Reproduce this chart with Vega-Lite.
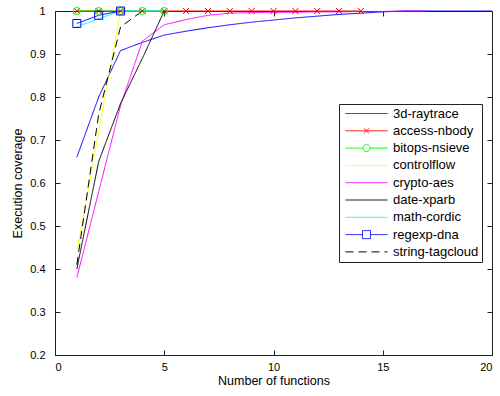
{
  "$schema": "https://vega.github.io/schema/vega-lite/v6.json",
  "width": 437,
  "height": 344,
  "autosize": {"type": "none"},
  "padding": {"left": 55, "top": 11, "right": 8, "bottom": 41},
  "background": "white",
  "config": {
    "font": "Liberation Sans",
    "view": {"stroke": "#222", "strokeWidth": 1},
    "axis": {
      "grid": false,
      "domain": false,
      "tickColor": "#222",
      "tickSize": -5,
      "labelFont": "Liberation Sans",
      "labelFontSize": 11,
      "labelColor": "#000",
      "titleFont": "Liberation Sans",
      "titleFontSize": 12.5,
      "titleFontWeight": "normal",
      "titleColor": "#000"
    },
    "legend": {
      "title": null, "orient": "none", "legendX": 284, "legendY": 93,
      "strokeColor": "#222", "fillColor": "white", "padding": 3,
      "symbolSize": 100, "symbolStrokeWidth": 1, "symbolOffset": 18, "labelOffset": 20,
      "symbolFillColor": "transparent", "symbolOpacity": 1,
      "labelFont": "Liberation Sans", "labelFontSize": 13, "labelColor": "#000", "rowPadding": 3.3
    }
  },
  "data": {
    "values": [
      {"series": "3d-raytrace", "n": 1, "cov": 0.66},
      {"series": "3d-raytrace", "n": 2, "cov": 0.80},
      {"series": "3d-raytrace", "n": 3, "cov": 0.908},
      {"series": "3d-raytrace", "n": 4, "cov": 0.927},
      {"series": "3d-raytrace", "n": 5, "cov": 0.944},
      {"series": "3d-raytrace", "n": 6, "cov": 0.953},
      {"series": "3d-raytrace", "n": 7, "cov": 0.961},
      {"series": "3d-raytrace", "n": 8, "cov": 0.968},
      {"series": "3d-raytrace", "n": 9, "cov": 0.974},
      {"series": "3d-raytrace", "n": 10, "cov": 0.979},
      {"series": "3d-raytrace", "n": 11, "cov": 0.984},
      {"series": "3d-raytrace", "n": 12, "cov": 0.988},
      {"series": "3d-raytrace", "n": 13, "cov": 0.992},
      {"series": "3d-raytrace", "n": 14, "cov": 0.995},
      {"series": "3d-raytrace", "n": 15, "cov": 0.998},
      {"series": "3d-raytrace", "n": 16, "cov": 1.0},
      {"series": "3d-raytrace", "n": 17, "cov": 1.0},
      {"series": "3d-raytrace", "n": 18, "cov": 1.0},
      {"series": "3d-raytrace", "n": 19, "cov": 1.0},
      {"series": "3d-raytrace", "n": 20, "cov": 1.0},
      {"series": "access-nbody", "n": 1, "cov": 1.0},
      {"series": "access-nbody", "n": 2, "cov": 1.0},
      {"series": "access-nbody", "n": 3, "cov": 1.0},
      {"series": "access-nbody", "n": 4, "cov": 1.0},
      {"series": "access-nbody", "n": 5, "cov": 1.0},
      {"series": "access-nbody", "n": 6, "cov": 1.0},
      {"series": "access-nbody", "n": 7, "cov": 1.0},
      {"series": "access-nbody", "n": 8, "cov": 1.0},
      {"series": "access-nbody", "n": 9, "cov": 1.0},
      {"series": "access-nbody", "n": 10, "cov": 1.0},
      {"series": "access-nbody", "n": 11, "cov": 1.0},
      {"series": "access-nbody", "n": 12, "cov": 1.0},
      {"series": "access-nbody", "n": 13, "cov": 1.0},
      {"series": "access-nbody", "n": 14, "cov": 1.0},
      {"series": "bitops-nsieve", "n": 1, "cov": 1.0},
      {"series": "bitops-nsieve", "n": 2, "cov": 1.0},
      {"series": "bitops-nsieve", "n": 3, "cov": 1.0},
      {"series": "bitops-nsieve", "n": 4, "cov": 1.0},
      {"series": "bitops-nsieve", "n": 5, "cov": 1.0},
      {"series": "controlflow", "n": 1, "cov": 0.44},
      {"series": "controlflow", "n": 2, "cov": 0.72},
      {"series": "controlflow", "n": 3, "cov": 1.0},
      {"series": "crypto-aes", "n": 1, "cov": 0.38},
      {"series": "crypto-aes", "n": 2, "cov": 0.58},
      {"series": "crypto-aes", "n": 3, "cov": 0.78},
      {"series": "crypto-aes", "n": 4, "cov": 0.93},
      {"series": "crypto-aes", "n": 5, "cov": 0.968},
      {"series": "crypto-aes", "n": 6, "cov": 0.98},
      {"series": "crypto-aes", "n": 7, "cov": 0.99},
      {"series": "crypto-aes", "n": 8, "cov": 0.995},
      {"series": "crypto-aes", "n": 9, "cov": 0.996},
      {"series": "crypto-aes", "n": 10, "cov": 0.997},
      {"series": "crypto-aes", "n": 11, "cov": 0.997},
      {"series": "crypto-aes", "n": 12, "cov": 0.998},
      {"series": "crypto-aes", "n": 13, "cov": 0.998},
      {"series": "crypto-aes", "n": 14, "cov": 0.999},
      {"series": "crypto-aes", "n": 15, "cov": 0.999},
      {"series": "crypto-aes", "n": 16, "cov": 1.0},
      {"series": "crypto-aes", "n": 17, "cov": 1.0},
      {"series": "date-xparb", "n": 1, "cov": 0.40},
      {"series": "date-xparb", "n": 2, "cov": 0.65},
      {"series": "date-xparb", "n": 3, "cov": 0.785},
      {"series": "date-xparb", "n": 4, "cov": 0.89},
      {"series": "date-xparb", "n": 5, "cov": 1.0},
      {"series": "math-cordic", "n": 1, "cov": 0.963},
      {"series": "math-cordic", "n": 2, "cov": 0.982},
      {"series": "math-cordic", "n": 3, "cov": 1.0},
      {"series": "math-cordic", "n": 4, "cov": 1.0},
      {"series": "math-cordic", "n": 5, "cov": 1.0},
      {"series": "regexp-dna", "n": 1, "cov": 0.971},
      {"series": "regexp-dna", "n": 2, "cov": 0.99},
      {"series": "regexp-dna", "n": 3, "cov": 1.0},
      {"series": "string-tagcloud", "n": 1, "cov": 0.41},
      {"series": "string-tagcloud", "n": 2, "cov": 0.76},
      {"series": "string-tagcloud", "n": 3, "cov": 0.963},
      {"series": "string-tagcloud", "n": 4, "cov": 1.0}
    ]
  },
  "resolve": {"axis": {"x": "independent", "y": "independent"}},
  "layer": [
    {
      "mark": {"type": "line", "strokeWidth": 1},
      "encoding": {
        "x": {
          "field": "n", "type": "quantitative",
          "scale": {"domain": [0, 20], "nice": false},
          "axis": {"orient": "bottom", "values": [0, 5, 10, 15, 20], "title": "Number of functions", "labelPadding": 11, "titlePadding": 2}
        },
        "y": {
          "field": "cov", "type": "quantitative",
          "scale": {"domain": [0.2, 1], "nice": false, "zero": false},
          "axis": {"orient": "left", "values": [0.2, 0.3, 0.4, 0.5, 0.6, 0.7, 0.8, 0.9, 1], "format": ".1~f", "title": "Execution coverage", "labelPadding": 15, "titlePadding": 5}
        },
        "color": {
          "field": "series", "type": "nominal",
          "scale": {
            "domain": ["3d-raytrace", "access-nbody", "bitops-nsieve", "controlflow", "crypto-aes", "date-xparb", "math-cordic", "regexp-dna", "string-tagcloud"],
            "range": ["#0000ff", "#ff0000", "#00ff00", "#ffff00", "#ff00ff", "#000000", "#00ffff", "#0000ff", "#000000"]
          }
        },
        "strokeDash": {
          "field": "series", "type": "nominal",
          "scale": {
            "domain": ["3d-raytrace", "access-nbody", "bitops-nsieve", "controlflow", "crypto-aes", "date-xparb", "math-cordic", "regexp-dna", "string-tagcloud"],
            "range": [[1, 0], [1, 0], [1, 0], [1, 0], [1, 0], [1, 0], [1, 0], [1, 0], [8, 5]]
          }
        }
      }
    },
    {
      "transform": [{"filter": "datum.series === 'access-nbody'"}],
      "mark": {"type": "point", "shape": "M-1,-1L1,1M-1,1L1,-1", "size": 36, "filled": false, "color": "#ff0000", "strokeWidth": 1, "opacity": 1},
      "encoding": {
        "x": {"field": "n", "type": "quantitative", "axis": null},
        "y": {"field": "cov", "type": "quantitative", "axis": null}
      }
    },
    {
      "transform": [{"filter": "datum.series === 'bitops-nsieve'"}],
      "mark": {"type": "point", "shape": "circle", "size": 50, "filled": false, "color": "#00ff00", "strokeWidth": 1, "opacity": 1},
      "encoding": {
        "x": {"field": "n", "type": "quantitative", "axis": null},
        "y": {"field": "cov", "type": "quantitative", "axis": null}
      }
    },
    {
      "transform": [{"filter": "datum.series === 'regexp-dna'"}],
      "mark": {"type": "point", "shape": "square", "size": 64, "filled": false, "color": "#0000ff", "strokeWidth": 1, "opacity": 1},
      "encoding": {
        "x": {"field": "n", "type": "quantitative", "axis": null},
        "y": {"field": "cov", "type": "quantitative", "axis": null}
      }
    },
    {
      "transform": [{"filter": "false"}],
      "mark": {"type": "point", "filled": false, "strokeWidth": 1, "opacity": 1},
      "encoding": {
        "x": {"field": "n", "type": "quantitative", "axis": {"orient": "top", "values": [0, 5, 10, 15, 20], "labels": false, "title": null}},
        "y": {"field": "cov", "type": "quantitative", "axis": {"orient": "right", "values": [0.2, 0.3, 0.4, 0.5, 0.6, 0.7, 0.8, 0.9, 1], "labels": false, "title": null}},
        "color": {"field": "series", "type": "nominal"},
        "shape": {
          "field": "series", "type": "nominal",
          "scale": {
            "domain": ["3d-raytrace", "access-nbody", "bitops-nsieve", "controlflow", "crypto-aes", "date-xparb", "math-cordic", "regexp-dna", "string-tagcloud"],
            "range": [
              "M-4.2,0H4.2",
              "M-4.2,0H4.2M-0.5,-0.5L0.5,0.5M-0.5,0.5L0.5,-0.5",
              "M-4.2,0H-0.7M0.7,0H4.2M-0.7,0A0.7,0.7,0,1,0,0.7,0A0.7,0.7,0,1,0,-0.7,0",
              "M-4.2,0H4.2",
              "M-4.2,0H4.2",
              "M-4.2,0H4.2",
              "M-4.2,0H4.2",
              "M-4.2,0H-0.8M0.8,0H4.2M-0.8,-0.8H0.8V0.8H-0.8Z",
              "M-4.2,0H4.2"
            ]
          }
        },
        "strokeDash": {"field": "series", "type": "nominal"}
      }
    }
  ]
}
